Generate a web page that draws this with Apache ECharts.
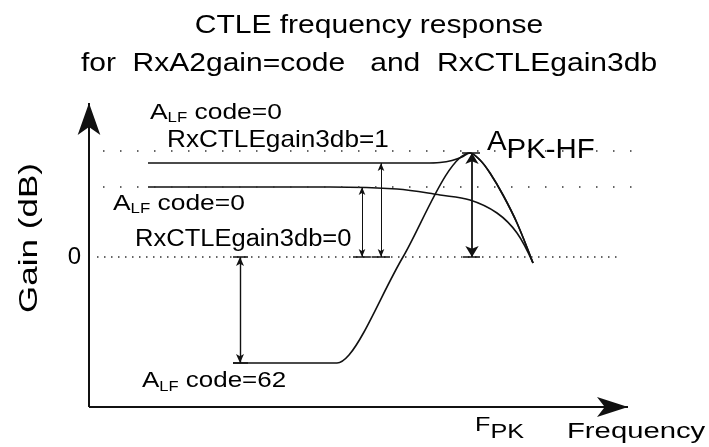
<!DOCTYPE html>
<html>
<head>
<meta charset="utf-8">
<style>
  html, body { margin: 0; padding: 0; background: #fff; }
  #chart { width: 709px; height: 447px; }
</style>
<script src="https://cdn.jsdelivr.net/npm/echarts@6/dist/echarts.min.js"></script>
</head>
<body>
<div id="chart"></div>
<script>
// schematic: frequency in arbitrary units, gain in dB (0 = reference level)
const FONT = '"Liberation Sans", Arial, sans-serif'
const freqMax = 57
const gainMin = -15
const gainMax = 18

const titleLines = ['CTLE frequency response', 'for  RxA2gain=code   and  RxCTLEgain3db']

// curves, [freq, gain]
const curveGain3db1 = [[5.9, 9.4], [21, 9.4], [33.6, 9.4], [35.1, 9.45], [36.3, 9.65], [37.3, 10.0], [38.1, 10.4], [39.1, 9.7], [40.1, 8.4], [41.4, 6.2], [42.8, 3.4], [44.4, -0.6]]
const curveGain3db0 = [[5.9, 7.0], [24.1, 7.0], [30.8, 6.8], [35.1, 6.2], [38.1, 5.7], [40.8, 4.4], [42.8, 2.4], [44.4, -0.6]]
const curveCode62 = [[14.4, -10.6], [24.8, -10.6], [26.0, -9.8], [27.5, -7.5], [31.4, 0], [38.1, 10.4], [39.1, 9.7], [40.1, 8.4], [41.4, 6.2], [42.8, 3.4], [44.4, -0.6]]

// axes: [fromFreq, fromGain, toFreq, toGain]
const axisLines = [[0, -15, 0, 15.4], [0, -15, 53.9, -15]]
// dotted reference levels: [gain, fromFreq, toFreq]
const dottedLevels = [[10.6, 1.4, 54.3], [7.0, 1.4, 54.3], [0, 0.8, 52.8]]
// dimension arrows: [freq, fromGain, toGain]
const dimArrows = [[15.1, 0, -10.6], [27.3, 7.0, 0], [29.2, 9.4, 0], [38.3, 10.4, 0]]
// small caps: [gain, fromFreq, toFreq]
const caps = [[0, 14.4, 15.9], [-10.6, 14.4, 15.9], [0, 26.4, 28.1], [0, 28.3, 30.1], [0, 37.4, 39.1], [10.4, 37.3, 39.1]]
// F_PK marker: [freq, fromGain, toGain]
const fpkLine = [38.3, 0, -15.8]

// annotations
const labelText = [
  '{a|A}{s|LF}{a| code=0}',
  '{a|RxCTLEgain3db=1}',
  '{a|A}{s|LF}{a| code=0}',
  '{a|RxCTLEgain3db=0}',
  '{a|A}{s|LF}{a| code=62}',
  '{a|A}{d|PK-HF}',
  '{a|F}{d|PK}',
  '{a|Frequency}',
  '{a|0}',
  '{a|Gain (dB)}'
]
const labelFreq = [6.1, 7.8, 2.4, 4.6, 5.3, 39.8, 38.6, 47.8, -1.45, -5.9]
const labelGain = [14.45, 11.7, 5.35, 1.7, -12.4, 11.5, -16.8, -17.5, 0, 1.9]

// label styles (same order as labelText)
const labelKind = [
  { size: 22, sub: 14, subDrop: 6, scaleX: 1.2 },
  { size: 24, scaleX: 1.09 },
  { size: 22, sub: 14, subDrop: 6, scaleX: 1.2 },
  { size: 23, scaleX: 1.11 },
  { size: 22, sub: 14, subDrop: 6, scaleX: 1.18 },
  { size: 28, drop: 8, scaleX: 1.05 },
  { size: 21, drop: 7, scaleX: 1.2 },
  { size: 22, scaleX: 1.33 },
  { size: 24, scaleX: 1, align: 'center' },
  { size: 25, scaleX: 1.4, align: 'center', rotation: Math.PI / 2 }
]

function richFor(k) {
  const base = { fontFamily: FONT, color: '#000', verticalAlign: 'middle' }
  const rich = { a: Object.assign({}, base, { fontSize: k.size, lineHeight: k.size }) }
  if (k.sub) {
    rich.s = Object.assign({}, base, { fontSize: k.sub, lineHeight: k.sub, padding: [k.subDrop * 2, 0, 0, 0] })
  }
  if (k.drop) {
    rich.d = Object.assign({}, base, { fontSize: k.size, lineHeight: k.size, padding: [k.drop * 2, 0, 0, 0] })
  }
  return rich
}

const ink = '#111'

function curveSeries(name, data, smooth) {
  return {
    name: name,
    type: 'line',
    data: data,
    smooth: smooth,
    showSymbol: false,
    clip: false,
    silent: true,
    lineStyle: { color: ink, width: 1.6 }
  }
}

function markSeries(name, lines) {
  return {
    name: name,
    type: 'line',
    data: [],
    clip: false,
    silent: true,
    markLine: {
      silent: true,
      animation: false,
      symbol: ['none', 'none'],
      label: { show: false },
      emphasis: { disabled: true },
      data: lines
    }
  }
}

const axisMarks = axisLines.map(function (a, i) {
  const size = i === 0 ? [17, 32] : [15, 31]
  return [
    { coord: [a[0], a[1]], symbol: 'none', lineStyle: { color: ink, width: 2, type: 'solid' } },
    { coord: [a[2], a[3]], symbol: 'arrow', symbolSize: size }
  ]
})

const dottedMarks = dottedLevels.map(function (d) {
  const dash = d[0] === 0 ? [1.5, 5.5] : [1.5, 15.5]
  return [
    { coord: [d[1], d[0]], lineStyle: { color: '#333', width: 1.5, type: dash } },
    { coord: [d[2], d[0]] }
  ]
})

const dimSizes = [[6, 9], [5, 8], [5, 8], [10, 11]]
const dimWidths = [1.4, 1, 1, 1.8]
const dimMarks = dimArrows.map(function (d, i) {
  return [
    { coord: [d[0], d[1]], symbol: 'arrow', symbolSize: dimSizes[i], lineStyle: { color: ink, width: dimWidths[i], type: 'solid' } },
    { coord: [d[0], d[2]], symbol: 'arrow', symbolSize: dimSizes[i] }
  ]
})

const capMarks = caps.map(function (c) {
  return [
    { coord: [c[1], c[0]], lineStyle: { color: ink, width: 1.5, type: 'solid' } },
    { coord: [c[2], c[0]] }
  ]
}).concat([[
  { coord: [fpkLine[0], fpkLine[1]], lineStyle: { color: ink, width: 1.8, type: 'solid' } },
  { coord: [fpkLine[0], fpkLine[2]] }
]])

const chart = echarts.init(document.getElementById('chart'))

chart.setOption({
  animation: false,
  backgroundColor: '#fff',
  graphic: titleLines.map(function (t, i) {
    return {
      type: 'text',
      x: 369,
      y: i === 0 ? 26 : 64,
      scaleX: 1.2,
      silent: true,
      style: { text: t, fontSize: 25, fontFamily: FONT, fill: '#000', align: 'center', verticalAlign: 'middle' }
    }
  }),
  grid: { left: 89, right: 50, top: 77, bottom: 40 },
  xAxis: { type: 'value', min: 0, max: freqMax, show: false },
  yAxis: { type: 'value', min: gainMin, max: gainMax, show: false },
  series: [
    markSeries('dotted', dottedMarks),
    markSeries('axes', axisMarks),
    markSeries('dims', dimMarks),
    markSeries('caps', capMarks),
    curveSeries('RxCTLEgain3db=1', curveGain3db1, 0.35),
    curveSeries('RxCTLEgain3db=0', curveGain3db0, 0.35),
    curveSeries('code=62', curveCode62, 0.3),
    {
      name: 'labels',
      type: 'custom',
      coordinateSystem: 'cartesian2d',
      clip: false,
      silent: true,
      z: 10,
      data: labelText.map(function (t, i) { return [labelFreq[i], labelGain[i], i] }),
      renderItem: function (params, api) {
        const i = api.value(2)
        const k = labelKind[i]
        const p = api.coord([api.value(0), api.value(1)])
        return {
          type: 'text',
          x: p[0],
          y: p[1],
          scaleX: k.scaleX,
          rotation: k.rotation || 0,
          style: {
            text: labelText[i],
            fill: '#000',
            fontFamily: FONT,
            fontSize: k.size,
            align: k.align || 'left',
            verticalAlign: 'middle',
            rich: richFor(k)
          }
        }
      }
    }
  ]
})
</script>
</body>
</html>
